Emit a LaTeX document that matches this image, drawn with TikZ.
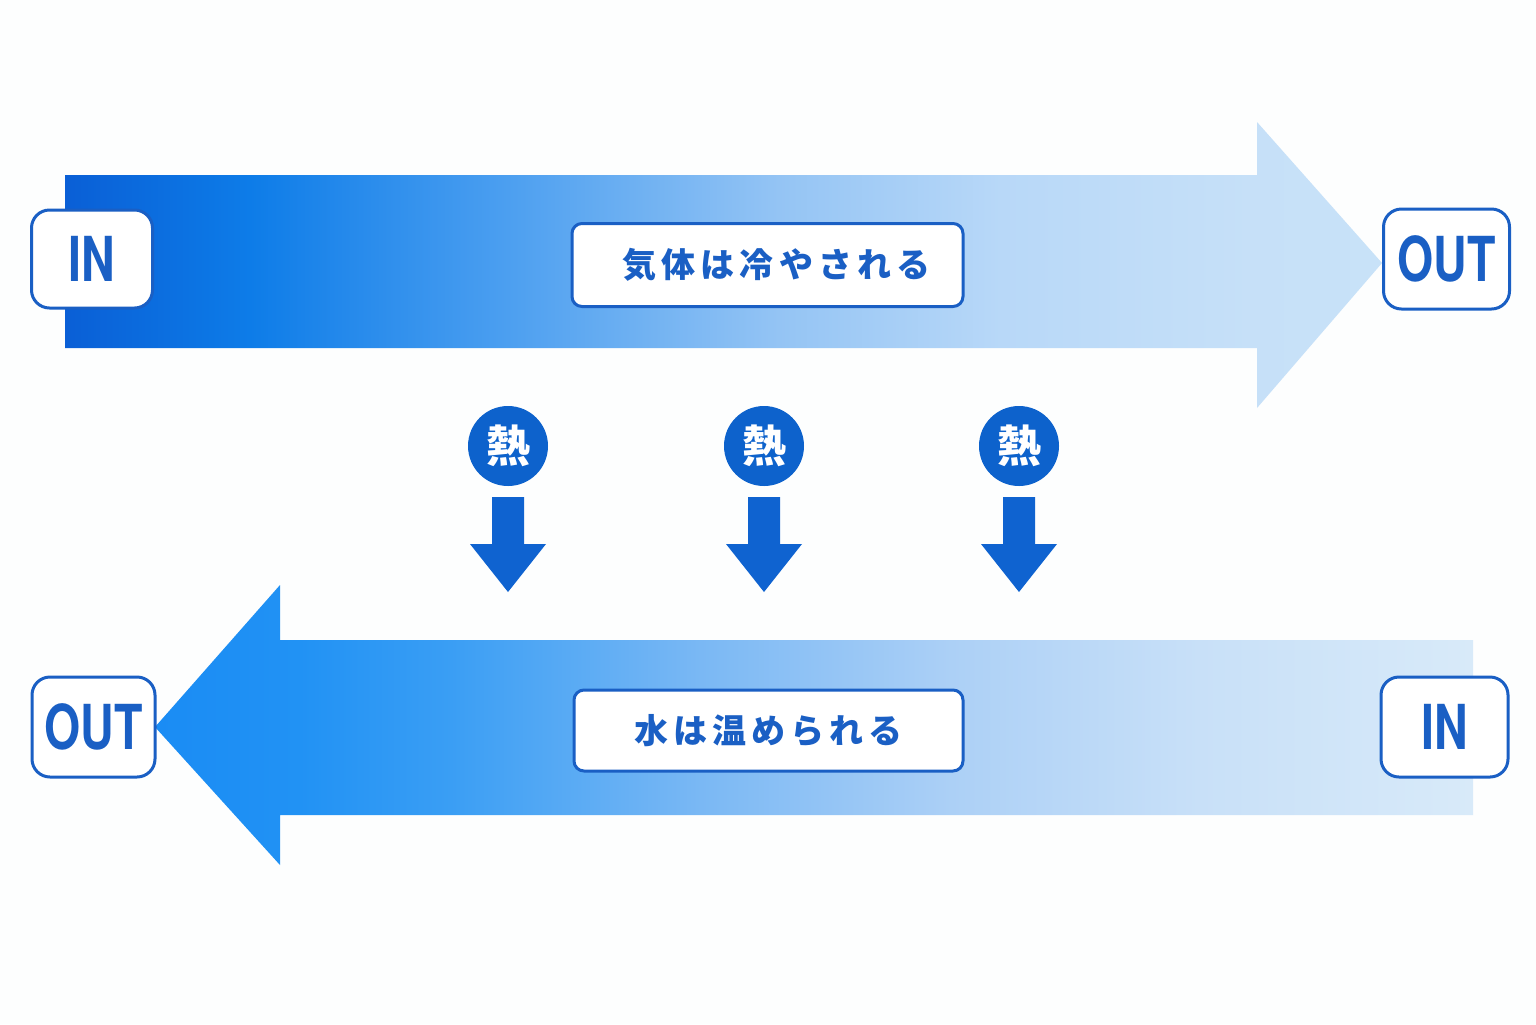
\documentclass[tikz,border=0pt]{standalone}
\usepackage{fontspec}
\usepackage{graphicx}
\setmainfont{TeX Gyre Heros}
\newfontfamily\jp{Noto Sans CJK JP}[LetterSpace=15]
\newfontfamily\jpn{Noto Sans CJK JP}
\usetikzlibrary{calc}

\definecolor{bgcol}{HTML}{FDFEFE}
\definecolor{bordblue}{HTML}{1A5FC4}
\definecolor{heatblue}{HTML}{0D62CC}
\definecolor{arrblue}{HTML}{0F63D0}
\definecolor{t0}{HTML}{0A5FD6}
\definecolor{t1}{HTML}{0D7CE8}
\definecolor{t2}{HTML}{4A9EF0}
\definecolor{t3}{HTML}{94C4F4}
\definecolor{t4}{HTML}{B8D8F8}
\definecolor{t5}{HTML}{C6E0F8}
\definecolor{t6}{HTML}{C8E2F8}
\definecolor{b0}{HTML}{1A8CF4}
\definecolor{b1}{HTML}{2192F4}
\definecolor{b2}{HTML}{3A9EF4}
\definecolor{b3}{HTML}{7AB8F4}
\definecolor{b4}{HTML}{ACD0F6}
\definecolor{b5}{HTML}{C8E0F8}
\definecolor{b6}{HTML}{D8EAF9}

\pgfdeclarehorizontalshading{topgrad}{100bp}{color(0bp)=(t0); color(25bp)=(t0); color(32bp)=(t1); color(41.5bp)=(t2); color(52.1bp)=(t3); color(60.5bp)=(t4); color(70bp)=(t5); color(75bp)=(t6); color(100bp)=(t6)}
\pgfdeclarehorizontalshading{botgrad}{100bp}{color(0bp)=(b0); color(25bp)=(b0); color(30.5bp)=(b1); color(36.2bp)=(b2); color(45.7bp)=(b3); color(55.2bp)=(b4); color(64.6bp)=(b5); color(75bp)=(b6); color(100bp)=(b6)}

\tikzset{
  portbox/.style={draw=bordblue, line width=1.5pt, fill=white, rounded corners=9pt,
    text=bordblue, font=\fontsize{31}{31}\selectfont\bfseries, inner sep=0pt},
  labelbox/.style={draw=bordblue, line width=1.5pt, fill=white, rounded corners=5pt,
    text=bordblue, font={\jp\fontsize{17}{17}\selectfont\bfseries}, inner sep=0pt},
  heat/.style={circle, fill=heatblue, text=white, minimum size=40pt, inner sep=0pt,
    font={\jpn\fontsize{22}{22}\selectfont\bfseries}},
}

\begin{document}
\begin{tikzpicture}[x=0.5pt,y=-0.5pt]
\fill[bgcol] (0,0) rectangle (1536,1024);
\useasboundingbox (0,0) rectangle (1536,1024);

% big arrows
\shade[shading=topgrad] (65,175) -- (1257,175) -- (1257,122) -- (1382,263) -- (1257,408) -- (1257,348) -- (65,348) -- cycle;
\shade[shading=botgrad] (1473,640) -- (280,640) -- (280,585) -- (155,727) -- (280,865) -- (280,815) -- (1473,815) -- cycle;

% port boxes
\node[portbox, minimum width=60.5pt, minimum height=49pt] (inL) at (92,259) {\scalebox{0.75}[1]{IN}};
\node[portbox, minimum width=63pt, minimum height=50pt] (outR) at (1446.5,259) {\scalebox{0.75}[1]{OUT}};
\node[portbox, minimum width=61.5pt, minimum height=50pt] (outL) at (93.5,727) {\scalebox{0.75}[1]{OUT}};
\node[portbox, minimum width=63.5pt, minimum height=50pt] (inR) at (1444.5,727) {\scalebox{0.75}[1]{IN}};

% label boxes
\node[labelbox, minimum width=195.5pt, minimum height=41.5pt] (gas) at (767.5,265) {\hspace*{9pt}気体は冷やされる};
\node[labelbox, minimum width=194.5pt, minimum height=40.5pt] (water) at (768.5,730.5) {水は温められる};

% heat circles
\node[heat] (h1) at (508,446) {熱};
\node[heat] (h2) at (764,446) {熱};
\node[heat] (h3) at (1019,446) {熱};

% down arrows
\foreach \n in {h1,h2,h3}{
  \fill[arrblue] ($(\n.center)+(-16,51)$) -- ($(\n.center)+(16,51)$) -- ($(\n.center)+(16,98)$)
    -- ($(\n.center)+(38,98)$) -- ($(\n.center)+(0,146)$) -- ($(\n.center)+(-38,98)$)
    -- ($(\n.center)+(-16,98)$) -- cycle;
}
\end{tikzpicture}
\end{document}
